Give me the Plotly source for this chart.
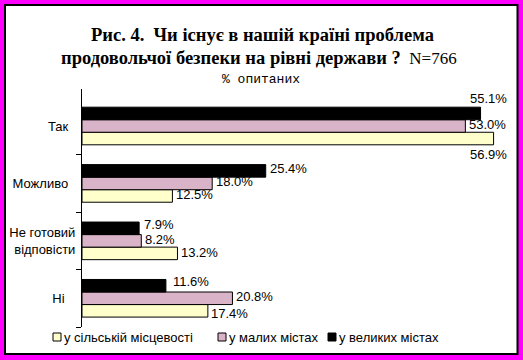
import plotly.graph_objects as go

# ---------------- data ----------------
categories = ["Так", "Можливо", "Не готовий<br>відповісти", "Ні"]
tick_labels = ["Так\u00a0\u00a0", "Можливо\u00a0\u00a0", "Не готовий<br>відповісти", "Ні\u00a0\u00a0\u00a0"]
series_names = ["у сільській місцевості", "у малих містах", "у великих містах"]
rural = [56.9, 12.5, 13.2, 17.4]
small_towns = [53.0, 18.0, 8.2, 20.8]
big_cities = [55.1, 25.4, 7.9, 11.6]
series_values = [rural, small_towns, big_cities]

title_line1 = "Рис. 4.\u00a0 Чи існує в нашій країні проблема"
title_line2 = "продовольчої безпеки на рівні держави ?"
title_n = "\u00a0 N=766"
subtitle = "% опитаних"

# ---------------- style / layout ----------------
colors = ["#FFFFCC", "#D9B3C7", "#000000"]
W, H = 523, 360
L, R, T, B = 82, 7, 89, 33
plot_w = W - L - R
plot_h = H - T - B
bargap = 0.345
band = plot_h / len(categories)
bar_px = band * (1 - bargap) / 3

# label nudges (pixels) per (series, category): (dx, dy_up)
nudges = {
    (2, 0): (-15, 13), (0, 0): (-28, -17), (1, 0): (0, 0),
    (2, 3): (3, 2), (0, 3): (-1, -4), (2, 2): (1, 2),
}
# legend entry x positions (pixels): square left edge
legend_x = [53, 218, 328]
legend_y = 337
sq = 8

def px_to_paper_x(px):
    return (px - L) / plot_w

def px_to_paper_y(py):
    return (H - B - py) / plot_h

y_order = list(reversed(categories))

fig = go.Figure()
for name, vals, col in zip(series_names, series_values, colors):
    fig.add_trace(go.Bar(
        y=categories, x=vals, name=name, orientation="h",
        marker=dict(color=col, line=dict(color="black", width=1)),
        hoverinfo="skip",
    ))

lab_font = dict(family="Liberation Sans, Arial", size=13, color="black")
annotations = []
for si, vals in enumerate(series_values):
    offset_up = (si - 1) * bar_px
    for ci, v in enumerate(vals):
        dx, dy = nudges.get((si, ci), (0, 0))
        annotations.append(dict(
            x=v, y=categories[ci], xref="x", yref="y",
            text=f"{v:.1f}%", showarrow=False,
            xanchor="left", yanchor="middle",
            xshift=2 + dx, yshift=offset_up + 1.5 + dy,
            font=lab_font,
        ))

title_font = dict(family="Liberation Serif, Times New Roman", size=18.5, color="black")
annotations.append(dict(
    x=px_to_paper_x(262), y=px_to_paper_y(47), xref="paper", yref="paper",
    text=f"<b>{title_line1}</b>", showarrow=False, xanchor="center", yanchor="bottom",
    font=title_font,
))
annotations.append(dict(
    x=px_to_paper_x(259), y=px_to_paper_y(69.5), xref="paper", yref="paper",
    text=f"<b>{title_line2}</b><span style='font-weight:normal;font-size:17px'>{title_n}</span>",
    showarrow=False, xanchor="center", yanchor="bottom",
    font=title_font,
))
annotations.append(dict(
    x=px_to_paper_x(261), y=px_to_paper_y(69.5), xref="paper", yref="paper",
    text=subtitle, showarrow=False, xanchor="center", yanchor="top",
    font=dict(family="Liberation Mono, Courier New", size=13, color="black"),
))

shapes = [dict(
    type="rect", xref="paper", yref="paper", layer="below",
    x0=px_to_paper_x(5), x1=px_to_paper_x(517.5),
    y0=px_to_paper_y(354), y1=px_to_paper_y(5),
    fillcolor="white", line=dict(color="black", width=2),
)]

# legend (drawn as shapes + text)
for lx, name, col in zip(legend_x, series_names, colors):
    shapes.append(dict(
        type="rect", xref="paper", yref="paper",
        x0=px_to_paper_x(lx), x1=px_to_paper_x(lx + sq),
        y0=px_to_paper_y(legend_y + sq / 2), y1=px_to_paper_y(legend_y - sq / 2),
        fillcolor=col, line=dict(color="black", width=1),
    ))
    annotations.append(dict(
        x=px_to_paper_x(lx + sq + 1), y=px_to_paper_y(legend_y),
        xref="paper", yref="paper", text=name, showarrow=False,
        xanchor="left", yanchor="middle", font=lab_font,
    ))

fig.update_layout(
    width=W, height=H,
    margin=dict(l=L, r=R, t=T, b=B, pad=0, autoexpand=False),
    paper_bgcolor="#FF00FF",
    plot_bgcolor="white",
    barmode="group",
    bargap=bargap,
    bargroupgap=0,
    showlegend=False,
    xaxis=dict(range=[0, 60], visible=False, fixedrange=True),
    yaxis=dict(
        categoryorder="array", categoryarray=y_order,
        tickmode="array", tickvals=categories, ticktext=tick_labels,
        showline=True, linecolor="black", linewidth=1,
        ticks="outside", ticklen=5, tickcolor="black", tickwidth=1,
        tickson="boundaries", showgrid=False, zeroline=False,
        automargin=False, ticklabelstandoff=3,
        tickfont=lab_font,
    ),
    shapes=shapes,
    annotations=annotations,
)

fig.write_html(
    "out.html",
    config={"displayModeBar": False},
    post_script="document.body.style.margin='0';document.body.style.overflow='hidden';",
)
